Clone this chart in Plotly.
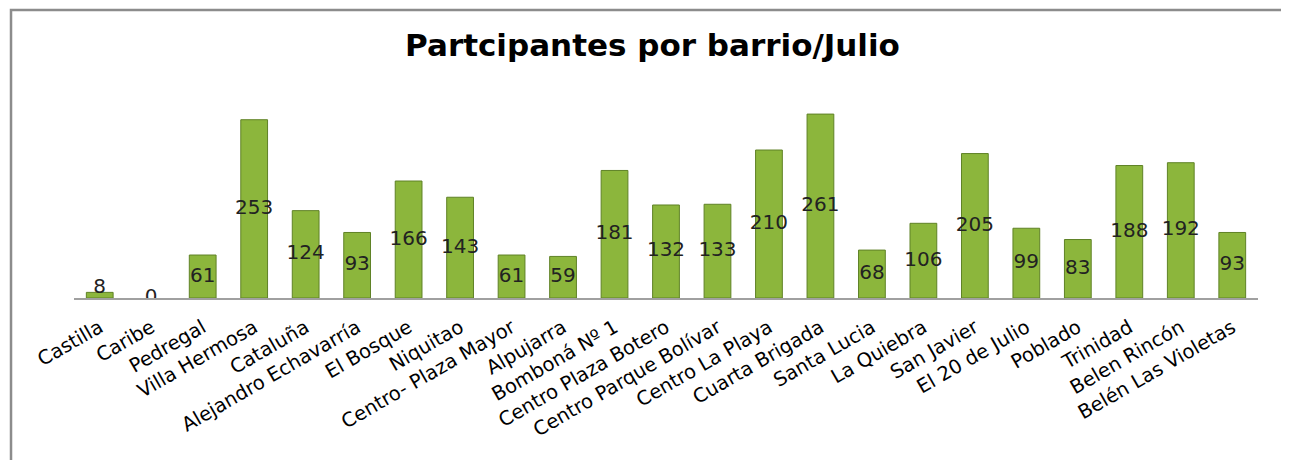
import plotly.graph_objects as go

# Participantes por barrio - Julio
barrios = ["Castilla", "Caribe", "Pedregal", "Villa Hermosa", "Cataluña",
           "Alejandro Echavarría", "El Bosque", "Niquitao", "Centro- Plaza Mayor",
           "Alpujarra", "Bomboná Nº 1", "Centro Plaza Botero", "Centro Parque Bolívar",
           "Centro La Playa", "Cuarta Brigada", "Santa Lucia", "La Quiebra",
           "San Javier", "El 20 de Julio", "Poblado", "Trinidad", "Belen Rincón",
           "Belén Las Violetas"]
participantes = [8, 0, 61, 253, 124, 93, 166, 143, 61, 59, 181, 132, 133,
                 210, 261, 68, 106, 205, 99, 83, 188, 192, 93]

verde = "#8cb63c"
borde = "#5f8226"

fig = go.Figure()
fig.add_trace(go.Bar(
    x=barrios, y=participantes,
    marker=dict(color=verde,
                line=dict(color=borde, width=[1 if v > 0 else 0 for v in participantes])),
    width=0.52,
    hoverinfo="x+y",
))
# etiquetas centradas en la barra (como en Excel)
pos_etq = [max(v / 2, 14) if v > 0 else 0 for v in participantes]
fig.add_trace(go.Scatter(
    x=barrios, y=pos_etq, mode="text",
    text=[str(v) for v in participantes],
    textfont=dict(family="DejaVu Sans", size=20, color="#222222"),
    hoverinfo="skip",
))

fig.update_layout(
    width=1289, height=460,
    margin=dict(l=66, r=39, t=92, b=170),
    paper_bgcolor="white", plot_bgcolor="white",
    showlegend=False,
    title=dict(text="<b>Partcipantes por barrio/Julio</b>", x=0.5, xanchor="center",
               y=0.92, yanchor="middle",
               font=dict(family="DejaVu Sans", size=31, color="black")),
    xaxis=dict(tickangle=-30, showline=True, linecolor="#a0a0a0", linewidth=1.5,
               ticks="", showgrid=False, automargin=False, ticklabelstandoff=9,
               range=[-0.5, len(barrios) - 0.5],
               tickfont=dict(family="DejaVu Sans", size=19.5, color="black")),
    yaxis=dict(range=[0, 281], visible=False, showgrid=False, automargin=False),
    shapes=[dict(type="rect", xref="paper", yref="paper",
                 x0=-0.0532, x1=1.1, y0=-1.2, y1=1.4545,
                 line=dict(color="#8c8c8c", width=2.5), layer="below")],
)

fig.write_html("out.html")
